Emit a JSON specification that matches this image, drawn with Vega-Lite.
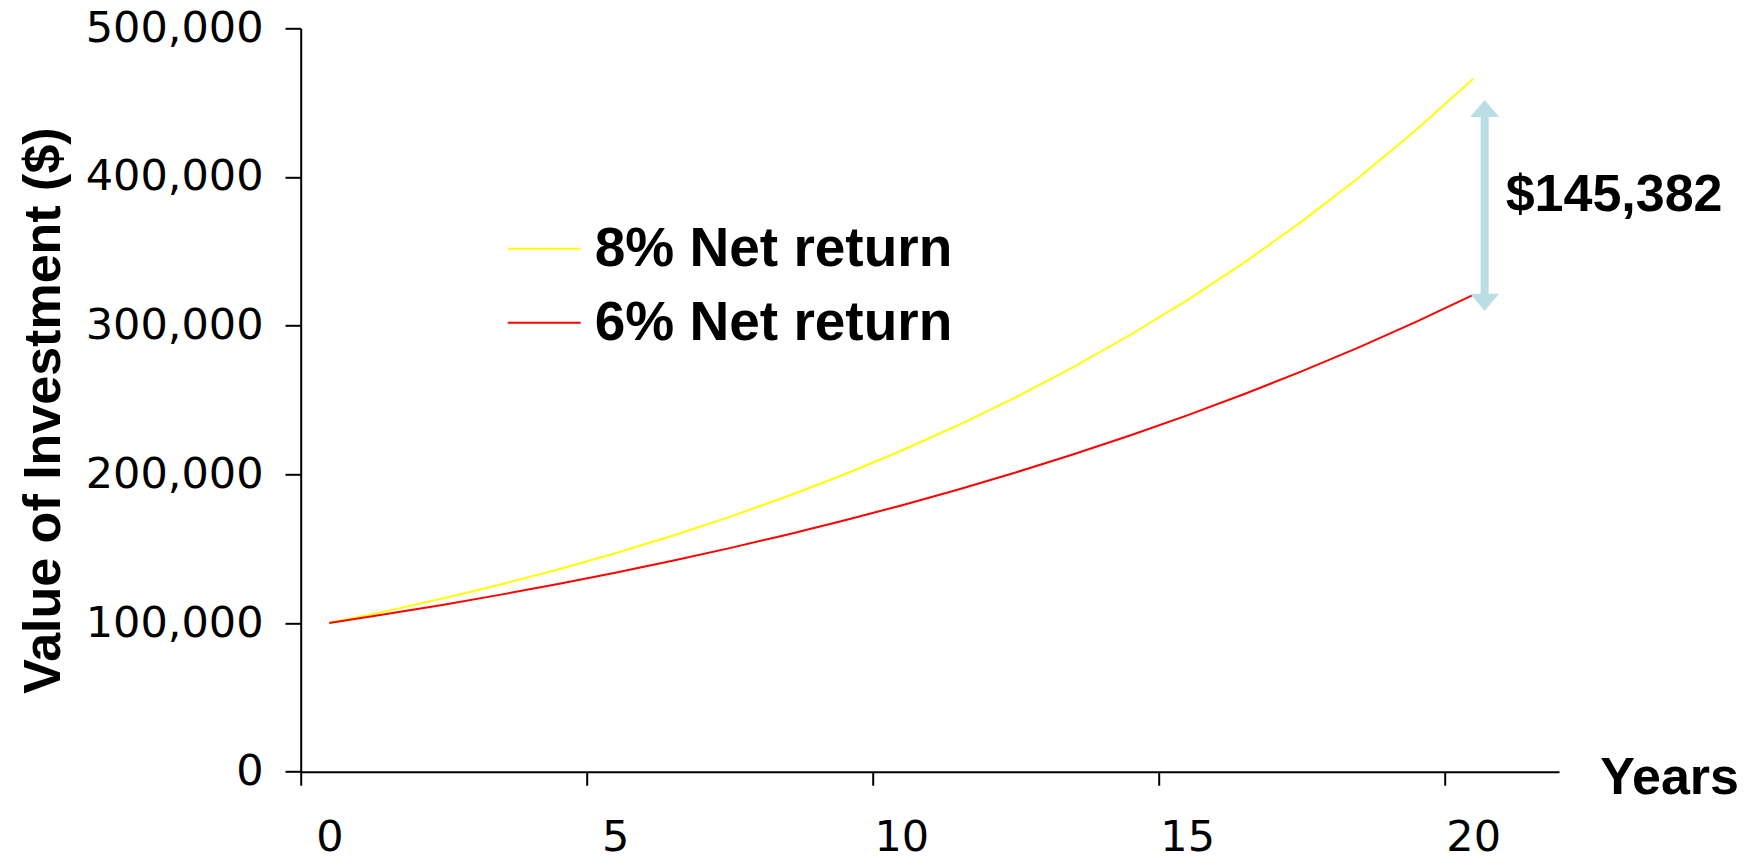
{
  "$schema": "https://vega.github.io/schema/vega-lite/v6.json",
  "autosize": {"type": "none"},
  "padding": {"left": 300.7, "top": 28.3, "right": 201, "bottom": 86.3},
  "width": 1258.3,
  "height": 743.4,
  "background": "white",
  "config": {
    "view": {"stroke": null},
    "font": "Liberation Sans",
    "axis": {"grid": false, "domainColor": "black", "tickColor": "black", "domainWidth": 2, "tickWidth": 2, "labelColor": "black", "titleColor": "black", "labelFont": "DejaVu Sans", "titleFont": "Liberation Sans"}
  },
  "datasets": {
    "series": [
      {"year": 0, "value": 100000, "series": "8% Net return"},
      {"year": 1, "value": 108000, "series": "8% Net return"},
      {"year": 2, "value": 116640, "series": "8% Net return"},
      {"year": 3, "value": 125971, "series": "8% Net return"},
      {"year": 4, "value": 136049, "series": "8% Net return"},
      {"year": 5, "value": 146933, "series": "8% Net return"},
      {"year": 6, "value": 158687, "series": "8% Net return"},
      {"year": 7, "value": 171382, "series": "8% Net return"},
      {"year": 8, "value": 185093, "series": "8% Net return"},
      {"year": 9, "value": 199900, "series": "8% Net return"},
      {"year": 10, "value": 215892, "series": "8% Net return"},
      {"year": 11, "value": 233164, "series": "8% Net return"},
      {"year": 12, "value": 251817, "series": "8% Net return"},
      {"year": 13, "value": 271962, "series": "8% Net return"},
      {"year": 14, "value": 293719, "series": "8% Net return"},
      {"year": 15, "value": 317217, "series": "8% Net return"},
      {"year": 16, "value": 342594, "series": "8% Net return"},
      {"year": 17, "value": 370002, "series": "8% Net return"},
      {"year": 18, "value": 399602, "series": "8% Net return"},
      {"year": 19, "value": 431570, "series": "8% Net return"},
      {"year": 20, "value": 466096, "series": "8% Net return"},
      {"year": 0, "value": 100000, "series": "6% Net return"},
      {"year": 1, "value": 106000, "series": "6% Net return"},
      {"year": 2, "value": 112360, "series": "6% Net return"},
      {"year": 3, "value": 119102, "series": "6% Net return"},
      {"year": 4, "value": 126248, "series": "6% Net return"},
      {"year": 5, "value": 133823, "series": "6% Net return"},
      {"year": 6, "value": 141852, "series": "6% Net return"},
      {"year": 7, "value": 150363, "series": "6% Net return"},
      {"year": 8, "value": 159385, "series": "6% Net return"},
      {"year": 9, "value": 168948, "series": "6% Net return"},
      {"year": 10, "value": 179085, "series": "6% Net return"},
      {"year": 11, "value": 189830, "series": "6% Net return"},
      {"year": 12, "value": 201220, "series": "6% Net return"},
      {"year": 13, "value": 213293, "series": "6% Net return"},
      {"year": 14, "value": 226090, "series": "6% Net return"},
      {"year": 15, "value": 239656, "series": "6% Net return"},
      {"year": 16, "value": 254035, "series": "6% Net return"},
      {"year": 17, "value": 269277, "series": "6% Net return"},
      {"year": 18, "value": 285434, "series": "6% Net return"},
      {"year": 19, "value": 302560, "series": "6% Net return"},
      {"year": 20, "value": 320714, "series": "6% Net return"}
    ],
    "note": [
      {"x": 20.2, "top": 451800, "bottom": 310000, "labelY": 387900, "label": "$145,382"}
    ]
  },
  "layer": [
    {
      "data": {"name": "series"},
      "mark": {"type": "line", "strokeWidth": 2},
      "encoding": {
        "x": {
          "field": "year", "type": "quantitative",
          "scale": {"domain": [-0.5, 21.5], "nice": false, "zero": false},
          "axis": {
            "values": [-0.5, 4.5, 9.5, 14.5, 19.5],
            "labelExpr": "format(datum.value + 0.5, 'd')",
            "labelOffset": 28.6,
            "tickSize": 13.5,
            "labelFontSize": 43,
            "labelBaseline": "alphabetic",
            "labelPadding": 65,
            "labelFlush": false,
            "labelOverlap": false,
            "title": "Years",
            "titleFontSize": 52,
            "titleFontWeight": "bold",
            "titleAnchor": "start",
            "titleAlign": "left",
            "titleBaseline": "alphabetic",
            "titleX": 1299,
            "titleY": 21.3
          }
        },
        "y": {
          "field": "value", "type": "quantitative",
          "scale": {"domain": [0, 500000], "nice": false},
          "axis": {
            "values": [0, 100000, 200000, 300000, 400000, 500000],
            "format": ",d",
            "tickSize": 15.7,
            "labelFontSize": 43,
            "labelPadding": 22,
            "title": "Value of Investment ($)",
            "titleFontSize": 52,
            "titleFontWeight": "bold",
            "titleAngle": -90,
            "titleAlign": "center",
            "titleBaseline": "alphabetic",
            "titleX": -241.7,
            "titleY": 381.7
          }
        },
        "color": {
          "field": "series", "type": "nominal",
          "scale": {"domain": ["8% Net return", "6% Net return"], "range": ["#FFFF00", "#FF0000"]},
          "legend": {
            "title": null,
            "orient": "none",
            "legendX": 206,
            "legendY": 183,
            "padding": 0,
            "symbolType": "stroke",
            "symbolStrokeWidth": 2,
            "symbolSize": 5329,
            "labelOffset": 13,
            "labelFontSize": 55,
            "labelFontWeight": "bold",
            "labelFont": "Liberation Sans",
            "labelColor": "black",
            "labelLimit": 1000,
            "rowPadding": 8
          }
        }
      }
    },
    {
      "data": {"name": "note"},
      "mark": {"type": "rule", "color": "#B9DEE3", "strokeWidth": 8, "yOffset": 15, "y2Offset": -15},
      "encoding": {
        "x": {"field": "x", "type": "quantitative"},
        "y": {"field": "top", "type": "quantitative"},
        "y2": {"field": "bottom"}
      }
    },
    {
      "data": {"name": "note"},
      "mark": {"type": "point", "filled": true, "opacity": 1, "color": "#B9DEE3", "shape": "M0,-0.59L1,0.59L-1,0.59Z", "size": 841, "yOffset": 8.5},
      "encoding": {
        "x": {"field": "x", "type": "quantitative"},
        "y": {"field": "top", "type": "quantitative"}
      }
    },
    {
      "data": {"name": "note"},
      "mark": {"type": "point", "filled": true, "opacity": 1, "color": "#B9DEE3", "shape": "M0,0.59L1,-0.59L-1,-0.59Z", "size": 841, "yOffset": -8.5},
      "encoding": {
        "x": {"field": "x", "type": "quantitative"},
        "y": {"field": "bottom", "type": "quantitative"}
      }
    },
    {
      "data": {"name": "note"},
      "mark": {"type": "text", "align": "left", "baseline": "middle", "dx": 21, "fontSize": 52, "fontWeight": "bold", "font": "Liberation Sans", "color": "black"},
      "encoding": {
        "x": {"field": "x", "type": "quantitative"},
        "y": {"field": "labelY", "type": "quantitative"},
        "text": {"field": "label"}
      }
    }
  ]
}
